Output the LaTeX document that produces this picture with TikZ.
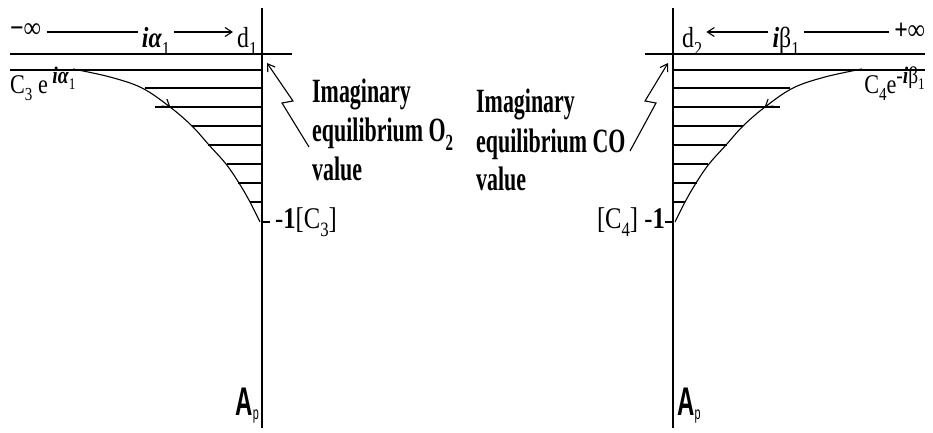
\documentclass[tikz,border=0pt]{standalone}
\usepackage{graphicx}
\usepackage{fontspec}
\setmainfont{Liberation Serif}[FakeStretch=0.82]
\newfontfamily\blkfont{Liberation Serif}[FakeStretch=0.645]
\newfontfamily\apfont{Liberation Sans}[FakeStretch=0.6]
\usetikzlibrary{arrows.meta,decorations.markings}
\newcommand\lo[1]{\raisebox{-0.28em}{\scalebox{0.68}{#1}}}
\newcommand\hi[1]{\raisebox{0.36em}{\scalebox{0.88}{#1}}}
\tikzset{
  ln/.style={line width=1.1pt},
  tipv/.style={-{Straight Barb[length=7pt,width=9pt]}},
  blk/.style={font=\blkfont\bfseries\fontsize{34}{40}\selectfont, inner sep=0pt, anchor=base west},
  lbl/.style={font=\fontsize{30}{34}\selectfont, inner sep=0pt},
  smlbl/.style={font=\fontsize{27}{30}\selectfont, inner sep=0pt},
  toplbl/.style={font=\fontsize{29}{32}\selectfont, inner ysep=0pt, inner xsep=4pt, anchor=base},
  aplbl/.style={font=\apfont\bfseries\fontsize{40}{40}\selectfont, inner sep=0pt},
  curvearrow/.style={postaction={decorate}, decoration={markings,
     mark=at position #1 with {\arrow{Straight Barb[length=7pt,width=9pt]}}}}
}
\begin{document}
\begin{tikzpicture}[x=1pt,y=-1pt]
\fill[white] (0,0) rectangle (933,432);
\useasboundingbox (0,0) rectangle (933,432);

% ---------- left panel ----------
\coordinate (lax1) at (262,8);
\coordinate (lax2) at (262,428);
\draw[ln] (lax1) -- (lax2);
\draw[ln] (10,54) -- (292,54);
\foreach \yy/\xx in {70/10,88/145,107/155,126/192,145/208,164/227,183/238,202/250}
  \draw[ln] (\xx,\yy) -- (262,\yy);
\draw[ln, curvearrow=0.42] plot[smooth, tension=0.6] coordinates
  {(73,69) (110,77) (142,88) (170,107) (192,126) (209,145) (226,164) (239,183) (250,202) (260,222)};
\draw[ln] (262,222) -- (270,222);

\node[toplbl, anchor=west, inner xsep=0pt, font=\fontsize{29}{32}\selectfont\bfseries] (minf) at (10,31) {−∞};
\node[toplbl] (ia) at (156,47) {\textbf{\textit{iα}}\lo{1}};
\node[toplbl, anchor=base west] (d1) at (233,47) {d\lo{1}};
\draw[ln] ([xshift=6pt]minf.east |- 0,32) -- (ia.west |- 0,32);
\draw[ln, tipv] (ia.east |- 0,32) -- (d1.west |- 0,32);

\node[smlbl, anchor=base west] (c3) at (10,93) {C\lo{3} e\,\hi{\textbf{\textit{iα}}\lo{1}}};
\node[lbl, anchor=west] (m1c3) at (275,222) {-\textbf{1}[C\lo{3}]};

\node[blk] (l1) at (312,102) {Imaginary};
\node[blk] (l2) at (312,141) {equilibrium O\lo{2}};
\node[blk] (l3) at (312,180) {value};
\coordinate (lzs) at (309,147);
\coordinate (lzt) at (267,63);
\draw[ln, tipv] (lzs) -- (282,103) -- (293,101) -- (lzt);

\node[aplbl, anchor=base east] (apl) at (259,415) {A\raisebox{-0.12em}{\scalebox{0.45}{\mdseries p}}};

% ---------- right panel ----------
\coordinate (rax1) at (673,8);
\coordinate (rax2) at (673,428);
\draw[ln] (rax1) -- (rax2);
\draw[ln] (645,54) -- (925,54);
\foreach \yy/\xx in {70/10,88/145,107/155,126/192,145/208,164/227,183/238,202/250}
  \draw[ln] ({935-\xx},\yy) -- (673,\yy);
\draw[ln, curvearrow=0.42] plot[smooth, tension=0.6] coordinates
  {(862,69) (825,77) (793,88) (765,107) (743,126) (726,145) (709,164) (696,183) (685,202) (675,222)};
\draw[ln] (665,222) -- (673,222);

\node[toplbl, anchor=base west] (d2) at (678,47) {d\lo{2}};
\node[toplbl] (ib) at (786,47) {\textbf{\textit{i}}β\lo{1}};
\node[toplbl, anchor=east, inner xsep=0pt, font=\fontsize{29}{32}\selectfont\bfseries] (pinf) at (925,31) {+∞};
\draw[ln, tipv] (ib.west |- 0,32) -- (d2.east |- 0,32);
\draw[ln] (ib.east |- 0,32) -- ([xshift=-5pt]pinf.west |- 0,32);

\node[smlbl, anchor=base east] (c4) at (925,93) {C\lo{4}e\hi{-\textbf{\textit{i}}β\lo{1}}};
\node[lbl, anchor=east] (c4m1) at (665,222) {[C\lo{4}] -\textbf{1}};

\node[blk] (r1) at (476,112) {Imaginary};
\node[blk] (r2) at (476,152) {equilibrium CO};
\node[blk] (r3) at (476,190) {value};
\coordinate (rzs) at (630,151);
\coordinate (rzt) at (668,63);
\draw[ln, tipv] (rzs) -- (656,103) -- (645,101) -- (rzt);

\node[aplbl, anchor=base west] (apr) at (677,415) {A\raisebox{-0.12em}{\scalebox{0.45}{\mdseries p}}};
\end{tikzpicture}
\end{document}
